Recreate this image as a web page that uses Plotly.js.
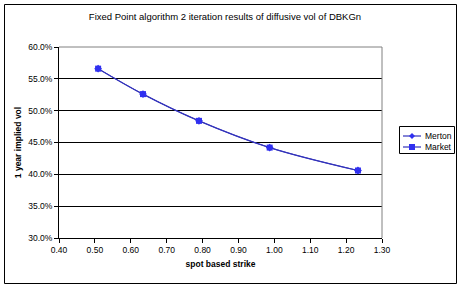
<!DOCTYPE html>
<html>
<head>
<meta charset="utf-8">
<script src="https://cdn.plot.ly/plotly-3.0.1.min.js"></script>
<style>
html,body{margin:0;padding:0;background:#fff;}
#chart{width:464px;height:291px;}
</style>
</head>
<body>
<div id="chart"></div>
<script>
// Data
const strikes = [0.509, 0.634, 0.790, 0.987, 1.233];
const mertonVol = [0.566, 0.526, 0.484, 0.442, 0.406];
const marketVol = [0.566, 0.526, 0.484, 0.442, 0.406];
const seriesNames = ["Merton", "Market"];
const seriesSymbols = ["diamond", "square"];
const titleText = "Fixed Point algorithm 2 iteration results of diffusive vol of DBKGn";
const xTitle = "spot based strike";
const yTitle = "1 year implied vol";

const FONT = "Liberation Sans, Arial, sans-serif";
const LINE = "#3333bb";
const MARK = "#3030f0";

const traces = [
  {
    x: strikes, y: mertonVol, name: seriesNames[0], type: "scatter", mode: "lines+markers",
    line: {color: LINE, width: 1.2, shape: "spline", smoothing: 1},
    marker: {symbol: seriesSymbols[0], size: 6, color: MARK}
  },
  {
    x: strikes, y: marketVol, name: seriesNames[1], type: "scatter", mode: "lines+markers",
    line: {color: LINE, width: 1, shape: "spline", smoothing: 1},
    marker: {symbol: seriesSymbols[1], size: 6, color: MARK}
  }
];

// plot area in px: left 59, right 382, top 47, bottom 238
const W = 464, H = 291, L = 59, R = 82, T = 47, B = 53;
const pw = W - L - R, ph = H - T - B;
const px2x = p => (p - L) / pw;
const py2y = p => (H - B - p) / ph;

// custom compact legend (Excel style)
const legShapes = [
  {type: "rect", xref: "paper", yref: "paper", x0: px2x(399.5), x1: px2x(454.5), y0: py2y(153.5), y1: py2y(126.5),
   line: {color: "#000", width: 1}, fillcolor: "#fff", layer: "above"}
];
const legAnn = [];
seriesNames.forEach((nm, i) => {
  const cy = 136 + i * 11;
  legShapes.push({type: "line", xref: "paper", yref: "paper", x0: px2x(403), x1: px2x(421), y0: py2y(cy), y1: py2y(cy),
    line: {color: LINE, width: 1.2}, layer: "above"});
  const cx = 412, r = 3;
  let path;
  if (seriesSymbols[i] === "diamond") {
    path = `M ${px2x(cx - r)} ${py2y(cy)} L ${px2x(cx)} ${py2y(cy - r)} L ${px2x(cx + r)} ${py2y(cy)} L ${px2x(cx)} ${py2y(cy + r)} Z`;
  } else {
    path = `M ${px2x(cx - r)} ${py2y(cy - r)} L ${px2x(cx + r)} ${py2y(cy - r)} L ${px2x(cx + r)} ${py2y(cy + r)} L ${px2x(cx - r)} ${py2y(cy + r)} Z`;
  }
  legShapes.push({type: "path", xref: "paper", yref: "paper", path: path, fillcolor: MARK, line: {width: 0}, layer: "above"});
  legAnn.push({xref: "paper", yref: "paper", x: px2x(423), y: py2y(cy), xanchor: "left", yanchor: "middle",
    text: nm, showarrow: false, font: {family: FONT, size: 8.5, color: "#000"}});
});

const layout = {
  width: W, height: H,
  margin: {l: L, r: R, t: T, b: B, pad: 0},
  paper_bgcolor: "#fff", plot_bgcolor: "#fff",
  font: {family: FONT, size: 8.5, color: "#000"},
  title: {text: titleText, font: {family: FONT, size: 9.5, color: "#000"},
          x: 225 / W, xref: "container", xanchor: "center", y: 1 - 17 / H, yref: "container", yanchor: "middle"},
  xaxis: {
    range: [0.4, 1.3], dtick: 0.1, tick0: 0.4, tickformat: ".2f",
    showgrid: false, zeroline: false, showline: true, linecolor: "#000", linewidth: 1,
    ticks: "outside", ticklen: 4, tickcolor: "#000", tickfont: {size: 8.5},
    title: {text: "<b>" + xTitle + "</b>", font: {size: 8.5}, standoff: 6}
  },
  yaxis: {
    range: [0.30, 0.60], dtick: 0.05, tick0: 0.30, tickformat: ".1%",
    showgrid: true, gridcolor: "#000", gridwidth: 1, zeroline: false,
    showline: true, linecolor: "#000", linewidth: 1,
    ticks: "outside", ticklen: 4, tickcolor: "#000", tickfont: {size: 8.5},
    title: {text: "<b>" + yTitle + "</b>", font: {size: 8.5}, standoff: 5}
  },
  showlegend: false,
  annotations: legAnn,
  shapes: [
    {type: "line", xref: "paper", yref: "paper", x0: 0, x1: 1, y0: 1, y1: 1, line: {color: "#808080", width: 1}, layer: "above"},
    {type: "line", xref: "paper", yref: "paper", x0: 1, x1: 1, y0: 0, y1: 1, line: {color: "#808080", width: 1}, layer: "above"},
    {type: "rect", xref: "paper", yref: "paper", x0: px2x(4.5), x1: px2x(456.5), y0: py2y(283.5), y1: py2y(4.5),
     line: {color: "#000", width: 1}, fillcolor: "rgba(0,0,0,0)", layer: "below"}
  ].concat(legShapes)
};

Plotly.newPlot("chart", traces, layout, {displayModeBar: false, staticPlot: true});
</script>
</body>
</html>
